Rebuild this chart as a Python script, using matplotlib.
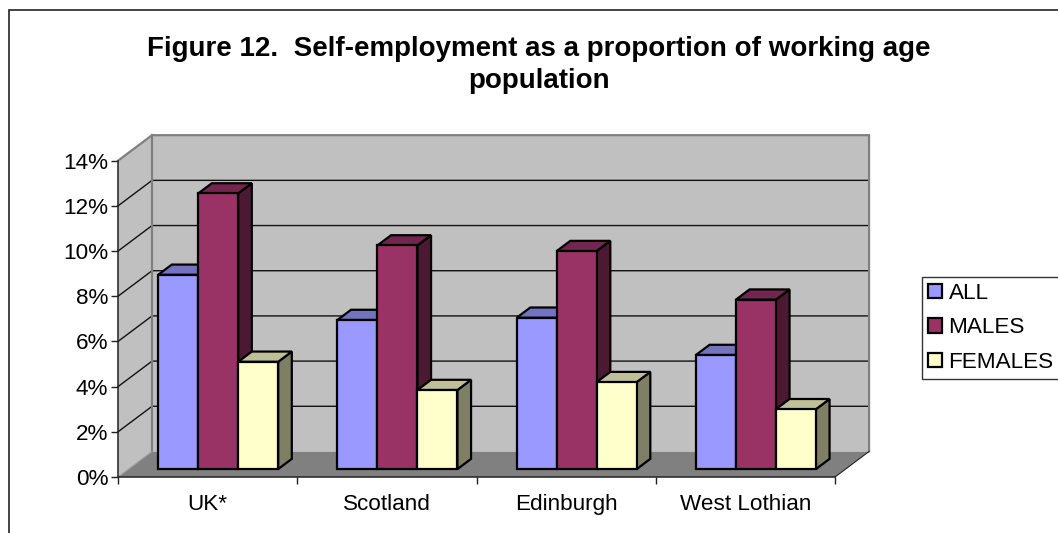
import numpy as np
import matplotlib
matplotlib.use("Agg")
import matplotlib.pyplot as plt
from matplotlib.patches import Polygon, Rectangle

plt.rcParams['font.family'] = ['Liberation Sans', 'DejaVu Sans']

categories = ["UK*", "Scotland", "Edinburgh", "West Lothian"]
all_vals = [8.6, 6.6, 6.7, 5.05]
males = [12.2, 9.9, 9.65, 7.5]
females = [4.75, 3.5, 3.85, 2.65]
y_ticks = [0, 2, 4, 6, 8, 10, 12, 14]
title = "Figure 12.  Self-employment as a proportion of working age\npopulation"

W, H = 1058, 533
fig = plt.figure(figsize=(W / 100, H / 100), dpi=100)
ax = fig.add_axes([118 / W, 1 - 477 / H, (835 - 118) / W, (477 - 160.7) / H])
ax.set_xlim(0, 4)
ax.set_ylim(0, 14)
ax.patch.set_visible(False)

# full depth of the box, in data units
DX = 0.19
DY = 1.13


def proj(x, y, d):
    # d = 0 is the front plane, d = 1 the back wall
    return (x + DX * d, y + DY * d)


def poly(pts, fc, ec='none', lw=0.0, z=1):
    p = Polygon(pts, closed=True, facecolor=fc, edgecolor=ec, linewidth=lw,
                joinstyle='miter', clip_on=False, zorder=z)
    ax.add_patch(p)


# walls and floor
poly([proj(0, 0, 1), proj(4, 0, 1), proj(4, 14, 1), proj(0, 14, 1)], '#C0C0C0', z=1)
poly([proj(0, 0, 0), proj(0, 0, 1), proj(0, 14, 1), proj(0, 14, 0)], '#C0C0C0', z=1)
poly([proj(0, 0, 0), proj(4, 0, 0), proj(4, 0, 1), proj(0, 0, 1)], '#808080', z=1)

for v in y_ticks[1:-1]:
    a, b, c = proj(0, v, 0), proj(0, v, 1), proj(4, v, 1)
    ax.plot([a[0], b[0], c[0]], [a[1], b[1], c[1]], color='#111111', lw=1.0,
            clip_on=False, zorder=2, solid_joinstyle='miter')

# grey outline of the box
edge = [proj(0, 14, 0), proj(0, 14, 1), proj(4, 14, 1), proj(4, 0, 1)]
ax.plot([p[0] for p in edge], [p[1] for p in edge], color='#808080', lw=1.6,
        clip_on=False, zorder=3, solid_joinstyle='miter')
ax.plot([proj(0, 0, 1)[0], proj(0, 14, 1)[0]], [proj(0, 0, 1)[1], proj(0, 14, 1)[1]],
        color='#808080', lw=1.6, clip_on=False, zorder=3)
ax.plot([proj(0, 0, 0)[0], proj(0, 0, 1)[0]], [0, DY], color='#A0A0A0', lw=0.8,
        clip_on=False, zorder=3)
ax.plot([proj(4, 0, 0)[0], proj(4, 0, 1)[0]], [0, DY], color='#222222', lw=0.8,
        clip_on=False, zorder=3)

# series colours: front, top, side
colors = [('#9999FF', '#7373BF', '#4C4C7F'),
          ('#993366', '#73264D', '#4C1933'),
          ('#FFFFCC', '#BFBF99', '#7F7F66')]
series = [all_vals, males, females]
labels = ["ALL", "MALES", "FEMALES"]

bar_w = 40 / 179.25
d0 = 0.31   # front face of the bars
d1 = 0.71   # back face of the bars
z = 5
for i in range(len(categories)):
    left = i + 0.5 - 1.5 * bar_w
    for j, vals in enumerate(series):
        x0 = left + j * bar_w
        x1 = x0 + bar_w
        v = vals[i]
        front, top, side = colors[j]
        base_f = proj(x0, 0, d0), proj(x1, 0, d0)
        top_f = proj(x0, v, d0), proj(x1, v, d0)
        poly([proj(x1, 0, d0), proj(x1, 0, d1), proj(x1, v, d1), proj(x1, v, d0)],
             side, 'black', 1.6, z)
        poly([proj(x0, v, d0), proj(x1, v, d0), proj(x1, v, d1), proj(x0, v, d1)],
             top, 'black', 1.6, z)
        poly([base_f[0], base_f[1], top_f[1], top_f[0]], front, 'black', 1.6, z)
        z += 1

# axes
for s in ['top', 'right']:
    ax.spines[s].set_visible(False)
for s in ['left', 'bottom']:
    ax.spines[s].set_color('#222222')
    ax.spines[s].set_linewidth(1.1)
    ax.spines[s].set_zorder(20)
ax.set_yticks(y_ticks)
ax.set_yticklabels([f"{v}%" for v in y_ticks], fontsize=16.2, color='black')
ax.set_xticks(range(5))
ax.set_xticklabels([])
ax.set_xticks(np.arange(len(categories)) + 0.5, categories, minor=True, fontsize=16.2)
ax.tick_params(axis='y', length=5, width=1.0, pad=2, color='#222222')
ax.tick_params(axis='x', which='major', length=5, width=1.0, color='#222222')
ax.tick_params(axis='x', which='minor', length=0, pad=12.5)

fig.text(539 / W, 1 - 64.5 / H, title, ha='center', va='center', fontsize=20.0,
         fontweight='bold', linespacing=1.3)

# legend runs off the right edge along with the outer frame
handles = [Rectangle((0, 0), 1, 1, facecolor=colors[k][0], edgecolor='black', linewidth=1.6)
           for k in range(3)]
leg = fig.legend(handles, labels, loc='upper left', bbox_to_anchor=(921.5 / W, 1 - 276.5 / H),
                 fontsize=16.2, fancybox=False, framealpha=1, edgecolor='#333333',
                 handlelength=0.62, handleheight=0.62, handletextpad=0.3, labelspacing=0.6,
                 borderpad=0.28, borderaxespad=0)
leg.get_frame().set_linewidth(1.0)

fig.add_artist(Rectangle((8.5 / W, -0.1), 1.2, 1.1 - 10.5 / H, transform=fig.transFigure,
                         facecolor='none', edgecolor='#222222', linewidth=1.2))

fig.savefig("out.png", dpi=100)
